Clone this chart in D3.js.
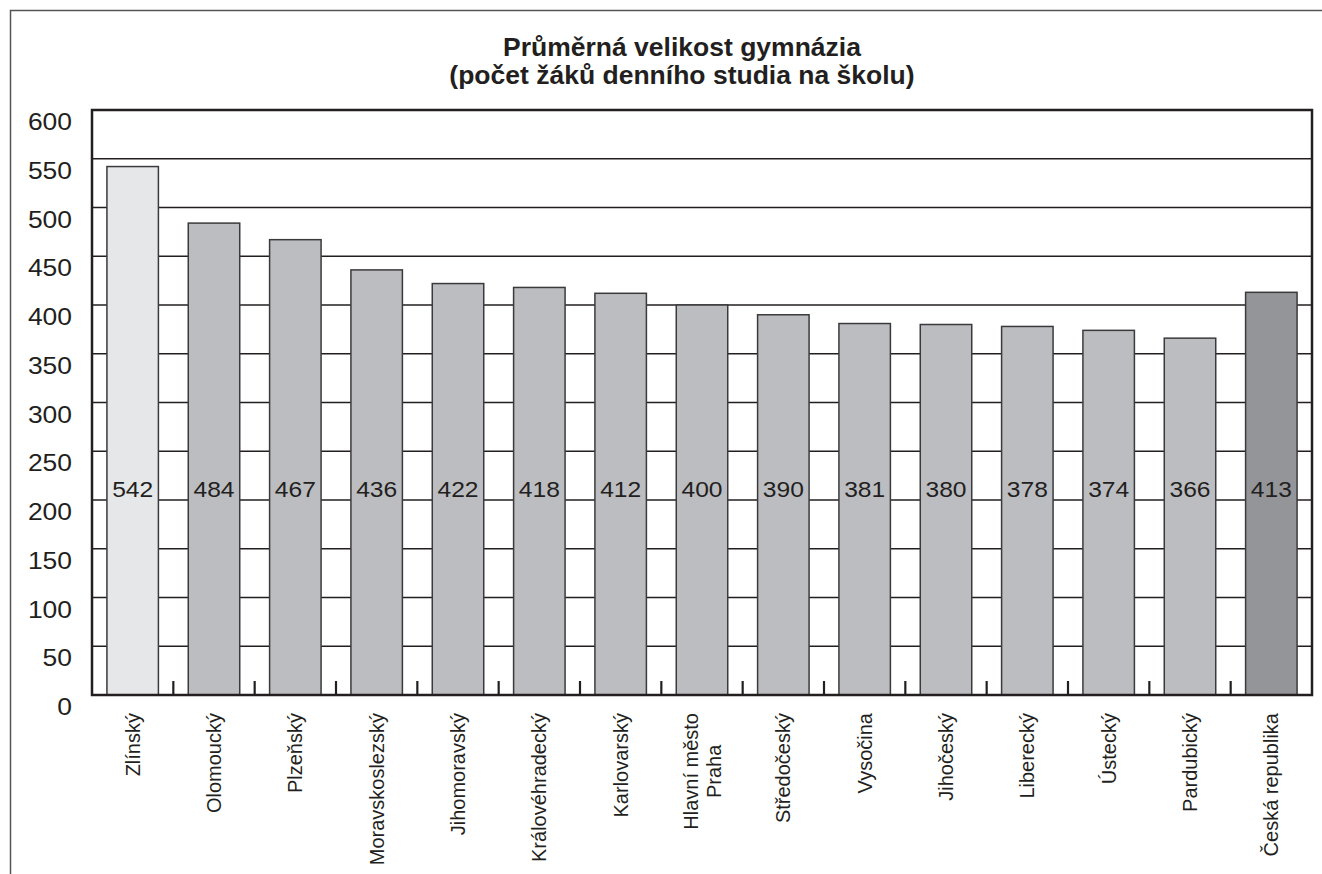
<!DOCTYPE html>
<html><head><meta charset="utf-8">
<script src="https://cdn.jsdelivr.net/npm/d3@7"></script>
<style>html,body{margin:0;padding:0;background:#fff;}svg{display:block;font-family:"Liberation Sans",Arial,sans-serif;}</style>
</head><body>
<svg id="c" width="1322" height="874"></svg>
<script>
const titleLines = ["Průměrná velikost gymnázia", "(počet žáků denního studia na školu)"];
const categories = ["Zlínský","Olomoucký","Plzeňský","Moravskoslezský","Jihomoravský","Královéhradecký","Karlovarský","Hlavní město\nPraha","Středočeský","Vysočina","Jihočeský","Liberecký","Ústecký","Pardubický","Česká republika"];
const values = [542,484,467,436,422,418,412,400,390,381,380,378,374,366,413];
const yTicks = [0,50,100,150,200,250,300,350,400,450,500,550,600];
const barColors = ["#e6e7e8","#bcbdc0","#bcbdc0","#bcbdc0","#bcbdc0","#bcbdc0","#bcbdc0","#bcbdc0","#bcbdc0","#bcbdc0","#bcbdc0","#bcbdc0","#bcbdc0","#bcbdc0","#939598"];

const svg = d3.select("#c");
const L = 92, R = 1312, T = 110, B = 695;
const x = d3.scaleBand().domain(categories).range([L, R]).paddingInner(0.367).paddingOuter(0.1835);
const y = d3.scaleLinear().domain([0, 600]).range([B, T]);
const ink = "#231f20";

// outer border
svg.append("path").attr("d", `M10.5,874 L10.5,10.5 L1322,10.5`).attr("fill","none").attr("stroke","#555").attr("stroke-width",1.5);

// title
const tt = svg.append("text").attr("text-anchor","middle").attr("font-weight","bold").attr("font-size",26.5).attr("fill",ink);
titleLines.forEach((t,i)=> tt.append("tspan").attr("x",682).attr("y",56+i*28).text(t));

// gridlines
svg.append("g").selectAll("line").data(yTicks.filter(d=>d>0 && d<600)).join("line")
  .attr("x1",L).attr("x2",R).attr("y1",d=>y(d)).attr("y2",d=>y(d))
  .attr("stroke",ink).attr("stroke-width",1.3);

// y labels
svg.append("g").selectAll("text").data(yTicks).join("text")
  .attr("transform",d=>`translate(72,${y(d)+20}) scale(1.15,1)`)
  .attr("text-anchor","end").attr("font-size",23).attr("fill",ink).text(d=>d);

// bars
svg.append("g").selectAll("rect").data(values).join("rect")
  .attr("x",(d,i)=>x(categories[i])).attr("width",x.bandwidth())
  .attr("y",d=>y(d)).attr("height",d=>B-y(d))
  .attr("fill",(d,i)=>barColors[i]).attr("stroke","#3a3a3c").attr("stroke-width",1.5);

// value labels
svg.append("g").selectAll("text").data(values).join("text")
  .attr("transform",(d,i)=>`translate(${x(categories[i])+x.bandwidth()/2},497) scale(1.12,1)`)
  .attr("text-anchor","middle").attr("font-size",22).attr("fill",ink).text(d=>d);

// category boundary ticks
const step = x.step();
svg.append("g").selectAll("line").data(d3.range(1, categories.length)).join("line")
  .attr("x1",k=>L+k*step).attr("x2",k=>L+k*step).attr("y1",B).attr("y2",B-14)
  .attr("stroke",ink).attr("stroke-width",2.2);

// frame
svg.append("rect").attr("x",L).attr("y",T).attr("width",R-L).attr("height",B-T)
  .attr("fill","none").attr("stroke",ink).attr("stroke-width",2.5);

// category labels
const cl = svg.append("g").selectAll("g").data(categories).join("g")
  .attr("transform",d=>`translate(${x(d)+x.bandwidth()/2},713) rotate(-90)`);
cl.each(function(d){
  const lines = d.split("\n");
  const g = d3.select(this);
  const lh = 23;
  if (lines.length === 1) {
    g.append("text").attr("text-anchor","end").attr("dy","0.35em").attr("font-size",20).attr("fill",ink).text(d);
  } else {
    const ts = lines.map((ln,i)=> g.append("text").attr("text-anchor","middle").attr("font-size",20).attr("fill",ink)
      .attr("y", (i - (lines.length-1)/2)*lh).attr("dy","0.35em").text(ln));
    const maxLen = d3.max(ts, t=>t.node().getComputedTextLength());
    ts.forEach(t=>t.attr("x", -maxLen/2));
  }
});
</script>
</body></html>
